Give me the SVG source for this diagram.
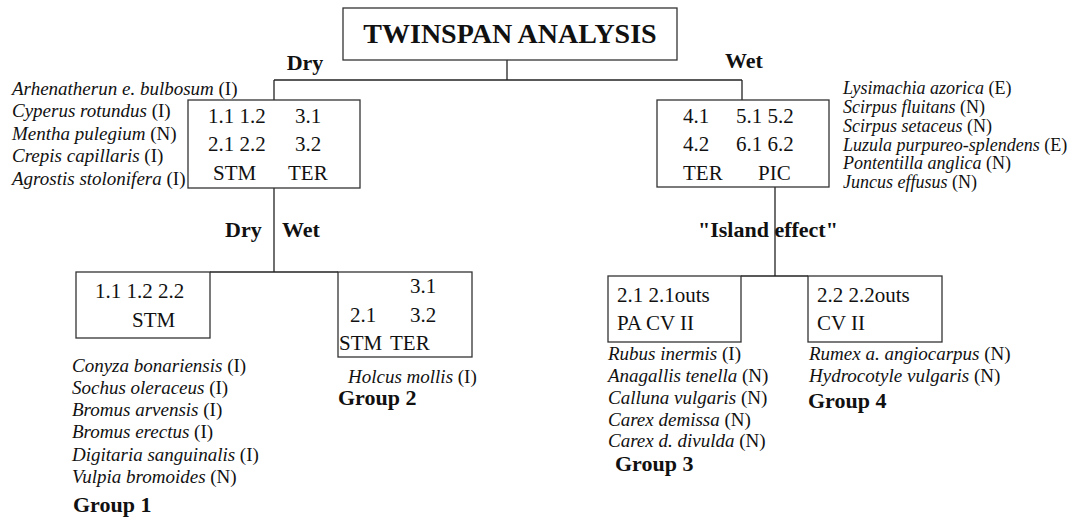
<svg xmlns="http://www.w3.org/2000/svg" width="1089" height="517" viewBox="0 0 1089 517">
<style>
text{font-family:"Liberation Serif","Times New Roman",serif;fill:#111}
.title{font-size:28px;font-weight:bold}
.lab{font-size:22px;font-weight:bold}
.box{font-size:21px}
.sp{font-size:19px;font-style:italic}
.sm{font-size:18px}
.sp tspan{font-style:normal}
.grp{font-size:22px;font-weight:bold}
.node{fill:#fff;stroke:#333;stroke-width:1.3}
line{stroke:#222;stroke-width:1.3}
</style>
<rect x="0" y="0" width="1089" height="517" style="fill:#fff;stroke:none"/>
<g id="connectors">
<line x1="507" y1="60" x2="507" y2="80"/>
<line x1="274" y1="80" x2="742" y2="80"/>
<line x1="274" y1="80" x2="274" y2="100"/>
<line x1="742" y1="80" x2="742" y2="100"/>
<line x1="274" y1="188" x2="274" y2="272"/>
<line x1="210" y1="272" x2="338" y2="272"/>
<line x1="775" y1="187" x2="775" y2="276"/>
<line x1="741" y1="276" x2="808" y2="276"/>
</g>
<g id="title">
<rect class="node" x="343" y="8" width="334" height="52"/>
<text class="title" x="510" y="43" text-anchor="middle">TWINSPAN ANALYSIS</text>
</g>
<g id="labels">
<text class="lab" x="305" y="70" text-anchor="middle">Dry</text>
<text class="lab" x="744" y="68" text-anchor="middle">Wet</text>
<text class="lab" x="225" y="237">Dry</text>
<text class="lab" x="282" y="237">Wet</text>
<text class="lab" x="698" y="237">"Island effect"</text>
</g>
<g id="node-dry">
<rect class="node" x="188" y="100" width="172" height="88"/>
<text class="box" x="208" y="123">1.1 1.2</text>
<text class="box" x="295" y="123">3.1</text>
<text class="box" x="208" y="151">2.1 2.2</text>
<text class="box" x="295" y="151">3.2</text>
<text class="box" x="213" y="180">STM</text>
<text class="box" x="288" y="180">TER</text>
</g>
<g id="species-dry">
<text class="sp" x="12" y="95">Arhenatherun e. bulbosum <tspan>(I)</tspan></text>
<text class="sp" x="12" y="117">Cyperus rotundus <tspan>(I)</tspan></text>
<text class="sp" x="12" y="140">Mentha  pulegium <tspan>(N)</tspan></text>
<text class="sp" x="12" y="162">Crepis capillaris <tspan>(I)</tspan></text>
<text class="sp" x="12" y="185">Agrostis stolonifera <tspan>(I)</tspan></text>
</g>
<g id="node-wet">
<rect class="node" x="657" y="100" width="172" height="87"/>
<text class="box" x="683" y="123">4.1</text>
<text class="box" x="736" y="123">5.1 5.2</text>
<text class="box" x="683" y="151">4.2</text>
<text class="box" x="736" y="151">6.1 6.2</text>
<text class="box" x="683" y="180">TER</text>
<text class="box" x="758" y="180">PIC</text>
</g>
<g id="species-wet">
<text class="sp sm" x="843" y="94">Lysimachia azorica <tspan>(E)</tspan></text>
<text class="sp sm" x="843" y="113">Scirpus fluitans <tspan>(N)</tspan></text>
<text class="sp sm" x="843" y="132">Scirpus setaceus <tspan>(N)</tspan></text>
<text class="sp sm" x="843" y="151">Luzula purpureo-splendens <tspan>(E)</tspan></text>
<text class="sp sm" x="843" y="169">Pontentilla anglica <tspan>(N)</tspan></text>
<text class="sp sm" x="843" y="188">Juncus effusus <tspan>(N)</tspan></text>
</g>
<g id="group1">
<rect class="node" x="76" y="272" width="134" height="66"/>
<text class="box" x="95" y="298">1.1 1.2 2.2</text>
<text class="box" x="132" y="327">STM</text>
<text class="sp" x="72" y="372">Conyza bonariensis <tspan>(I)</tspan></text>
<text class="sp" x="72" y="394">Sochus oleraceus <tspan>(I)</tspan></text>
<text class="sp" x="72" y="416">Bromus arvensis <tspan>(I)</tspan></text>
<text class="sp" x="72" y="438">Bromus erectus <tspan>(I)</tspan></text>
<text class="sp" x="72" y="461">Digitaria sanguinalis <tspan>(I)</tspan></text>
<text class="sp" x="72" y="483">Vulpia bromoides <tspan>(N)</tspan></text>
<text class="grp" x="73" y="512">Group 1</text>
</g>
<g id="group2">
<rect class="node" x="338" y="272" width="134" height="85"/>
<text class="box" x="410" y="293">3.1</text>
<text class="box" x="350" y="322">2.1</text>
<text class="box" x="410" y="322">3.2</text>
<text class="box" x="339" y="350">STM</text>
<text class="box" x="390" y="350">TER</text>
<text class="sp" x="348" y="383">Holcus mollis <tspan>(I)</tspan></text>
<text class="grp" x="338" y="405">Group 2</text>
</g>
<g id="group3">
<rect class="node" x="608" y="276" width="133" height="66"/>
<text class="box" x="617" y="302">2.1 2.1outs</text>
<text class="box" x="617" y="330">PA CV II</text>
<text class="sp" x="608" y="360">Rubus inermis <tspan>(I)</tspan></text>
<text class="sp" x="608" y="382">Anagallis tenella <tspan>(N)</tspan></text>
<text class="sp" x="608" y="404">Calluna vulgaris <tspan>(N)</tspan></text>
<text class="sp" x="608" y="426">Carex demissa <tspan>(N)</tspan></text>
<text class="sp" x="608" y="447">Carex d. divulda <tspan>(N)</tspan></text>
<text class="grp" x="615" y="471">Group 3</text>
</g>
<g id="group4">
<rect class="node" x="808" y="276" width="134" height="66"/>
<text class="box" x="817" y="302">2.2 2.2outs</text>
<text class="box" x="817" y="330">CV II</text>
<text class="sp" x="809" y="360">Rumex a. angiocarpus <tspan>(N)</tspan></text>
<text class="sp" x="809" y="382">Hydrocotyle vulgaris <tspan>(N)</tspan></text>
<text class="grp" x="808" y="408">Group 4</text>
</g>
</svg>
